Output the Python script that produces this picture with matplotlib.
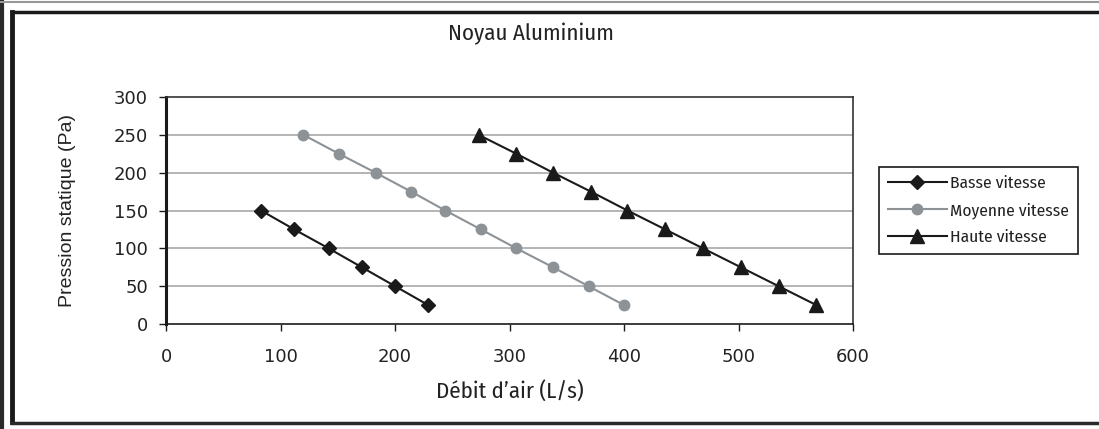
import matplotlib
matplotlib.use("Agg")
import matplotlib.pyplot as plt
from matplotlib.lines import Line2D

# data
basse_x = [83, 112, 142, 171, 200, 229]
basse_y = [150, 125, 100, 75, 50, 25]
moyenne_x = [120, 151, 183, 214, 244, 275, 306, 338, 369, 400]
moyenne_y = [250, 225, 200, 175, 150, 125, 100, 75, 50, 25]
haute_x = [273, 306, 338, 371, 403, 436, 469, 502, 535, 568]
haute_y = [250, 225, 200, 175, 150, 125, 100, 75, 50, 25]
x_ticks = [0, 100, 200, 300, 400, 500, 600]
y_ticks = [0, 50, 100, 150, 200, 250, 300]

plt.rcParams['font.family'] = ['Liberation Sans', 'DejaVu Sans']
cond = ['Fira Sans Condensed', 'Liberation Sans', 'DejaVu Sans']
W, H = 1099, 429
ink = '#222222'

fig = plt.figure(figsize=(W / 100, H / 100), dpi=100)
ax = fig.add_axes([166 / W, 105 / H, 687 / W, 227 / H])

ax.plot(basse_x, basse_y, color='#1a1a1a', lw=1.5, marker='D', ms=7.5,
        label='Basse vitesse')
ax.plot(moyenne_x, moyenne_y, color='#8d9297', lw=1.5, marker='o', ms=7.5,
        label='Moyenne vitesse')
ax.plot(haute_x, haute_y, color='#1a1a1a', lw=1.5, marker='^', ms=10.5,
        label='Haute vitesse')

ax.set_xlim(0, 600)
ax.set_ylim(0, 300)
ax.set_xticks(x_ticks)
ax.set_yticks(y_ticks)
ax.tick_params(length=5, width=1, direction='out', color='#1a1a1a',
               labelcolor=ink)
ax.tick_params(axis='x', pad=12)
ax.tick_params(axis='y', pad=8)
for lab in ax.get_xticklabels() + ax.get_yticklabels():
    lab.set_family('DejaVu Sans')
    lab.set_fontsize(13)
for v in y_ticks[1:-1]:
    ax.axhline(v, color='#a8a8a8', lw=1.2, zorder=0)

ax.spines['left'].set_linewidth(2.2)
ax.spines['left'].set_color('#1a1a1a')
ax.spines['bottom'].set_linewidth(1.2)
ax.spines['bottom'].set_color('#1a1a1a')
ax.spines['top'].set_linewidth(1.2)
ax.spines['top'].set_color('#333333')
ax.spines['right'].set_linewidth(1.2)
ax.spines['right'].set_color('#333333')

ax.set_xlabel('Débit d’air (L/s)', fontsize=16.5, family=cond, color=ink,
              va='baseline')
ax.xaxis.set_label_coords(0.5, (324 - 398) / 227)
ax.set_ylabel('Pression statique (Pa)', fontsize=14, color=ink, va='center')
ax.yaxis.set_label_coords((67 - 166) / 687, 0.5)
fig.text(531 / W, 1 - 40 / H, 'Noyau Aluminium', fontsize=16.5, family=cond,
         color=ink, ha='center', va='baseline')

leg = ax.legend(loc='upper left', bbox_to_anchor=(879 / W, 1 - 167 / H),
                bbox_transform=fig.transFigure, frameon=True, fancybox=False,
                edgecolor='#1a1a1a', framealpha=1, handlelength=3.4,
                borderpad=0.5, labelspacing=0.62, handletextpad=0.2,
                borderaxespad=0, prop={'family': cond, 'size': 12.5})
leg.get_frame().set_linewidth(1.2)
for t in leg.get_texts():
    t.set_color(ink)

# page frame lines
fig.add_artist(Line2D([0.0015, 0.0015], [0, 1], transform=fig.transFigure,
                      color='#2a2a2a', lw=3))
fig.add_artist(Line2D([0, 1], [1 - 1.5 / H, 1 - 1.5 / H], transform=fig.transFigure,
                      color='#999999', lw=1.5))
fig.add_artist(Line2D([12 / W, 12 / W], [1 - 422 / H, 1 - 12 / H],
                      transform=fig.transFigure, color='#1a1a1a', lw=3.5))
fig.add_artist(Line2D([12 / W, 1], [1 - 12 / H, 1 - 12 / H],
                      transform=fig.transFigure, color='#1a1a1a', lw=2.5))
fig.add_artist(Line2D([12 / W, 1], [1 - 422.5 / H, 1 - 422.5 / H],
                      transform=fig.transFigure, color='#2a2a2a', lw=2.5))

fig.savefig('out.png', dpi=100)
